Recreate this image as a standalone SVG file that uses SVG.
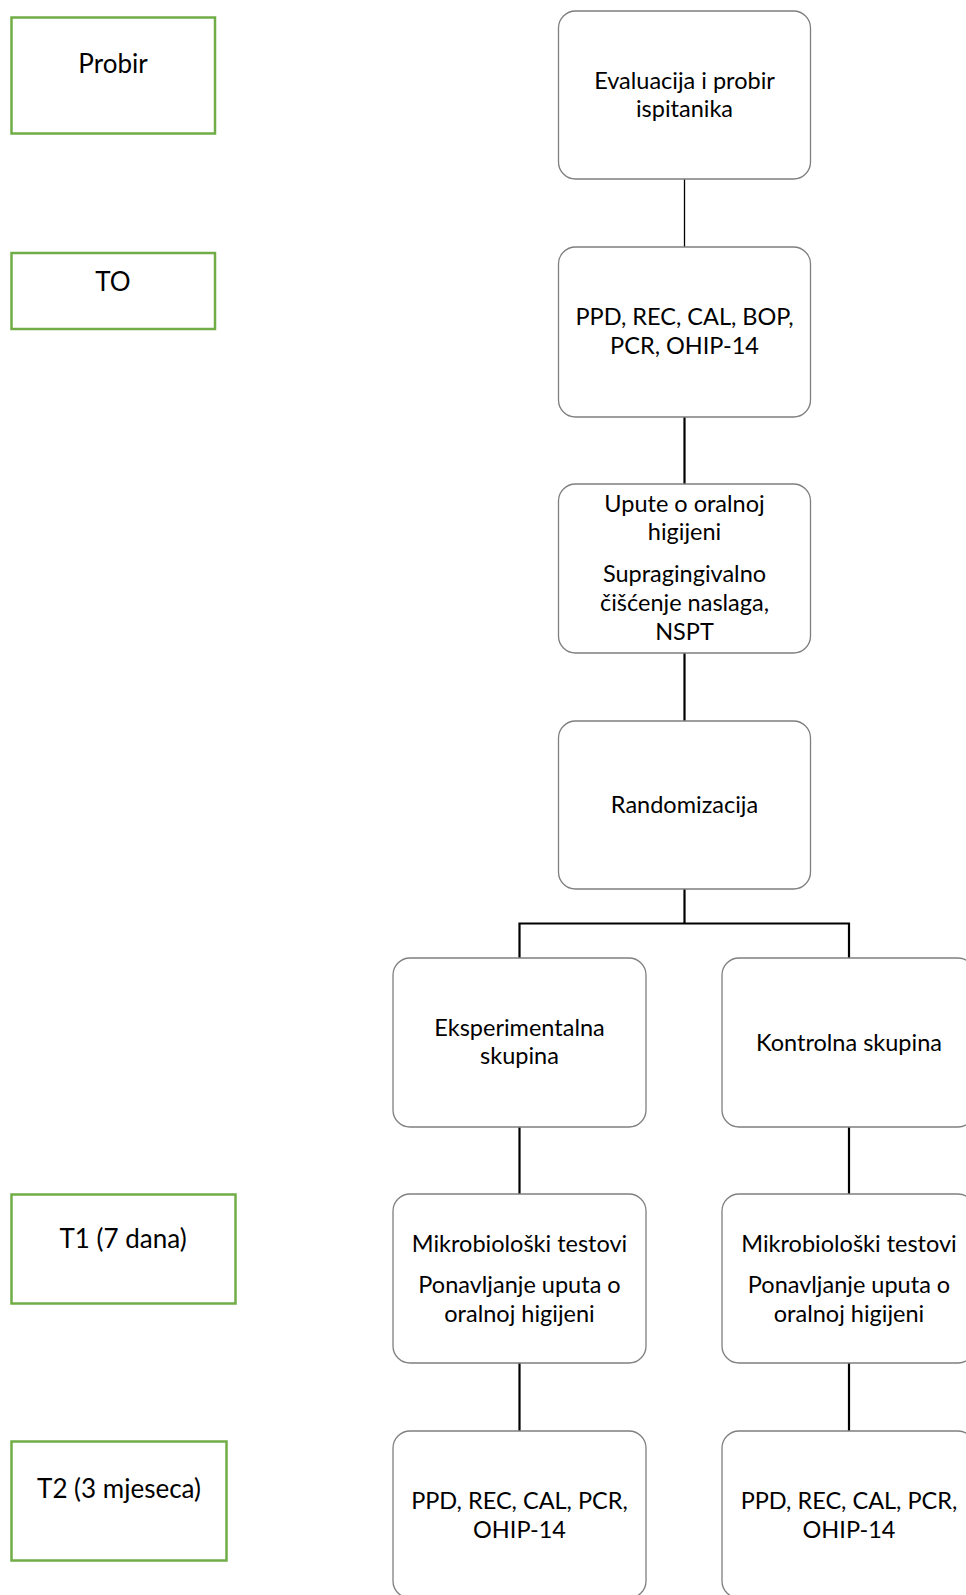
<svg xmlns="http://www.w3.org/2000/svg" width="966" height="1595" viewBox="0 0 966 1595">
<style>
.bg{fill:#ffffff}
.green{fill:#ffffff;stroke:#70AD47;stroke-width:2.5}
.box{fill:#ffffff;stroke:#7f7f7f;stroke-width:1.3}
.t{font-family:Lato,"Open Sans","Liberation Sans",sans-serif;font-size:23.5px;fill:#000000;text-anchor:middle}
.lt{font-family:Lato,"Open Sans","Liberation Sans",sans-serif;font-size:26px;fill:#000000;text-anchor:middle}
.thin{stroke:#000000;stroke-width:1.3;fill:none}
.thick{stroke:#000000;stroke-width:2.2;fill:none}
</style>
<rect class="bg" x="0" y="0" width="966" height="1595"/>
<g id="connectors">
<line class="thin" x1="684.5" y1="179" x2="684.5" y2="247"/>
<line class="thick" x1="684.5" y1="417" x2="684.5" y2="484"/>
<line class="thick" x1="684.5" y1="653" x2="684.5" y2="721"/>
<polyline class="thick" points="684.5,889 684.5,923.5"/>
<polyline class="thick" points="519.5,958 519.5,923.5 849,923.5 849,958"/>
<line class="thick" x1="519.5" y1="1127" x2="519.5" y2="1194"/>
<line class="thick" x1="849" y1="1127" x2="849" y2="1194"/>
<line class="thick" x1="519.5" y1="1363" x2="519.5" y2="1431"/>
<line class="thick" x1="849" y1="1363" x2="849" y2="1431"/>
</g>
<g id="label-probir">
<rect class="green" x="11.5" y="17.5" width="203.5" height="116"/>
<text class="lt" x="113" y="73">Probir</text>
</g>
<g id="label-t0">
<rect class="green" x="11.5" y="253" width="203.5" height="76"/>
<text class="lt" x="113" y="291">TO</text>
</g>
<g id="label-t1">
<rect class="green" x="11.5" y="1194.5" width="224" height="109"/>
<text class="lt" x="123" y="1248">T1 (7 dana)</text>
</g>
<g id="label-t2">
<rect class="green" x="11.5" y="1441.5" width="215" height="119"/>
<text class="lt" x="119" y="1498">T2 (3 mjeseca)</text>
</g>
<g id="node-evaluacija">
<rect class="box" x="558.5" y="11" width="252" height="168" rx="17"/>
<text class="t" x="684.5" y="89">Evaluacija i probir</text>
<text class="t" x="684.5" y="117">ispitanika</text>
</g>
<g id="node-t0-mjerenja">
<rect class="box" x="558.5" y="247" width="252" height="170" rx="17"/>
<text class="t" x="684.5" y="325">PPD, REC, CAL, BOP,</text>
<text class="t" x="684.5" y="354">PCR, OHIP-14</text>
</g>
<g id="node-upute">
<rect class="box" x="558.5" y="484" width="252" height="169" rx="17"/>
<text class="t" x="684.5" y="511.5">Upute o oralnoj</text>
<text class="t" x="684.5" y="540">higijeni</text>
<text class="t" x="684.5" y="581.5">Supragingivalno</text>
<text class="t" x="684.5" y="610.5">čišćenje naslaga,</text>
<text class="t" x="684.5" y="640">NSPT</text>
</g>
<g id="node-randomizacija">
<rect class="box" x="558.5" y="721" width="252" height="168" rx="17"/>
<text class="t" x="684.5" y="812.5">Randomizacija</text>
</g>
<g id="node-eksperimentalna">
<rect class="box" x="393" y="958" width="253" height="169" rx="17"/>
<text class="t" x="519.5" y="1036">Eksperimentalna</text>
<text class="t" x="519.5" y="1064">skupina</text>
</g>
<g id="node-kontrolna">
<rect class="box" x="722" y="958" width="253" height="169" rx="17"/>
<text class="t" x="849" y="1051">Kontrolna skupina</text>
</g>
<g id="node-eksp-t1">
<rect class="box" x="393" y="1194" width="253" height="169" rx="17"/>
<text class="t" x="519.5" y="1252">Mikrobiološki testovi</text>
<text class="t" x="519.5" y="1292.5">Ponavljanje uputa o</text>
<text class="t" x="519.5" y="1322">oralnoj higijeni</text>
</g>
<g id="node-kontr-t1">
<rect class="box" x="722" y="1194" width="253" height="169" rx="17"/>
<text class="t" x="849" y="1252">Mikrobiološki testovi</text>
<text class="t" x="849" y="1292.5">Ponavljanje uputa o</text>
<text class="t" x="849" y="1322">oralnoj higijeni</text>
</g>
<g id="node-eksp-t2">
<rect class="box" x="393" y="1431" width="253" height="167" rx="17"/>
<text class="t" x="519.5" y="1509">PPD, REC, CAL, PCR,</text>
<text class="t" x="519.5" y="1538">OHIP-14</text>
</g>
<g id="node-kontr-t2">
<rect class="box" x="722" y="1431" width="253" height="167" rx="17"/>
<text class="t" x="849" y="1509">PPD, REC, CAL, PCR,</text>
<text class="t" x="849" y="1538">OHIP-14</text>
</g>
</svg>
